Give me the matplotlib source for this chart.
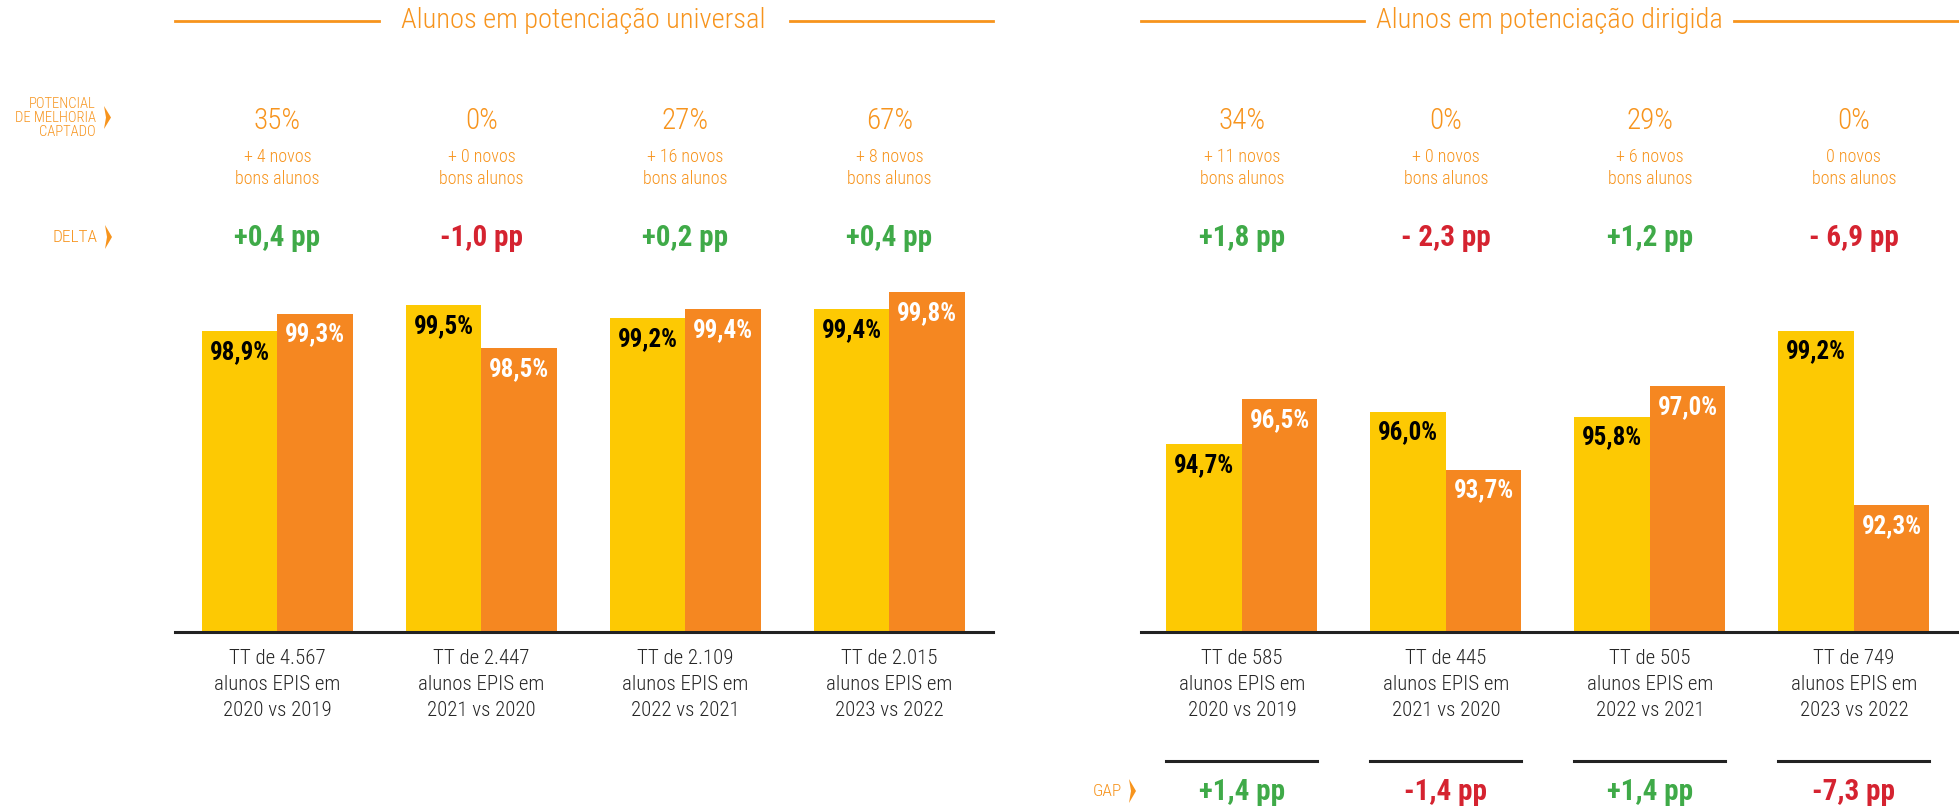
import matplotlib
matplotlib.use("Agg")
import matplotlib.pyplot as plt
import matplotlib.transforms as mtransforms
from matplotlib.lines import Line2D
from matplotlib.patches import Polygon
import numpy as np

# ---------------- data ----------------
univ_labels = ["TT de 4.567\nalunos EPIS em\n2020 vs 2019",
               "TT de 2.447\nalunos EPIS em\n2021 vs 2020",
               "TT de 2.109\nalunos EPIS em\n2022 vs 2021",
               "TT de 2.015\nalunos EPIS em\n2023 vs 2022"]
univ_prev = [98.9, 99.5, 99.2, 99.4]
univ_curr = [99.3, 98.5, 99.4, 99.8]
univ_pot = ["35%", "0%", "27%", "67%"]
univ_novos = ["+ 4 novos\nbons alunos", "+ 0 novos\nbons alunos",
              "+ 16 novos\nbons alunos", "+ 8 novos\nbons alunos"]
univ_delta = ["+0,4 pp", "-1,0 pp", "+0,2 pp", "+0,4 pp"]

dir_labels = ["TT de 585\nalunos EPIS em\n2020 vs 2019",
              "TT de 445\nalunos EPIS em\n2021 vs 2020",
              "TT de 505\nalunos EPIS em\n2022 vs 2021",
              "TT de 749\nalunos EPIS em\n2023 vs 2022"]
dir_prev = [94.7, 96.0, 95.8, 99.2]
dir_curr = [96.5, 93.7, 97.0, 92.3]
dir_pot = ["34%", "0%", "29%", "0%"]
dir_novos = ["+ 11 novos\nbons alunos", "+ 0 novos\nbons alunos",
             "+ 6 novos\nbons alunos", "0 novos\nbons alunos"]
dir_delta = ["+1,8 pp", "- 2,3 pp", "+1,2 pp", "- 6,9 pp"]
dir_gap = ["+1,4 pp", "-1,4 pp", "+1,4 pp", "-7,3 pp"]

titles = ["Alunos em potenciação universal", "Alunos em potenciação dirigida"]

# ---------------- style ----------------
YEL = "#FDC903"
ORA = "#F58721"
TORA = "#F7941D"
GREEN = "#3FAA48"
RED = "#D52330"
DARK = "#262626"
FONT = ["Roboto Condensed", "Roboto", "DejaVu Sans"]
plt.rcParams["font.family"] = FONT

W, H = 1959, 806
fig = plt.figure(figsize=(W / 100, H / 100), dpi=100)
px = mtransforms.Affine2D().scale(1 / W, -1 / H).translate(0, 1) + fig.transFigure

def fy(y):
    return 1 - y / H

BASE = 632.2
TOP = 283.6
BW = 0.37

def make_panel(x0, x1, xlim, ylim, prev, curr, labels, pot, novos, delta, gap=None):
    ax = fig.add_axes([x0 / W, fy(BASE), (x1 - x0) / W, (BASE - TOP) / H])
    x = np.arange(len(prev))
    ax.bar(x - BW / 2, prev, BW, color=YEL, zorder=2)
    ax.bar(x + BW / 2, curr, BW, color=ORA, zorder=2)
    ax.set_xlim(*xlim)
    ax.set_ylim(*ylim)
    for s in ["top", "left", "right"]:
        ax.spines[s].set_visible(False)
    ax.spines["bottom"].set_color("#222222")
    ax.spines["bottom"].set_linewidth(2.2)
    ax.spines["bottom"].set_zorder(3)
    ax.set_xticks([])
    ax.set_yticks([])
    for i in range(len(prev)):
        ax.annotate(f"{prev[i]:.1f}%".replace(".", ","), (x[i] - BW / 2, prev[i]),
                    xytext=(0, -15), textcoords="offset points", ha="center", va="center",
                    fontsize=18, fontweight="bold", color="black")
        ax.annotate(f"{curr[i]:.1f}%".replace(".", ","), (x[i] + BW / 2, curr[i]),
                    xytext=(0, -15), textcoords="offset points", ha="center", va="center",
                    fontsize=18, fontweight="bold", color="white")
    bt = mtransforms.blended_transform_factory(ax.transData, px)
    for i in range(len(prev)):
        fig.text(x[i], 121, pot[i], transform=bt, ha="center", va="center",
                 fontsize=21, fontweight="light", color=TORA)
        fig.text(x[i], 168, novos[i], transform=bt, ha="center", va="center",
                 fontsize=13, fontweight="light", color=TORA, linespacing=1.3)
        c = GREEN if delta[i].startswith("+") else RED
        fig.text(x[i], 238, delta[i], transform=bt, ha="center", va="center",
                 fontsize=21, fontweight="bold", color=c)
        fig.text(x[i], 649, labels[i], transform=bt, ha="center", va="top",
                 fontsize=15, fontweight="light", color=DARK, linespacing=1.45)
        if gap is not None:
            fig.add_artist(Line2D([x[i] - BW, x[i] + BW], [761, 761], transform=bt,
                                  color="#222222", lw=2.2))
            c = GREEN if gap[i].startswith("+") else RED
            fig.text(x[i], 792, gap[i], transform=bt, ha="center", va="center",
                     fontsize=21, fontweight="bold", color=c)
    return ax

axL = make_panel(175, 993, (-0.502, 3.508), (91.9, 100.0),
                 univ_prev, univ_curr, univ_labels, univ_pot, univ_novos, univ_delta)
axR = make_panel(1140.7, 1959, (-0.496, 3.515), (87.27, 101.06),
                 dir_prev, dir_curr, dir_labels, dir_pot, dir_novos, dir_delta, dir_gap)

# titles with side lines
for (l0, l1, cx, r0, r1), t in zip([(175, 378.6, 583.5, 789.6, 993.3),
                                      (1140.7, 1364.3, 1549, 1734, 1959)], titles):
    fig.add_artist(Line2D([l0, l1], [21, 21], transform=px, color=TORA, lw=2))
    fig.add_artist(Line2D([r0, r1], [21, 21], transform=px, color=TORA, lw=2))
    fig.text(cx, 21, t, transform=px, ha="center", va="center", fontsize=20.5,
             fontweight="light", color=TORA)

# row labels with arrows
def arrow(xl, y0, y1):
    xr = xl + 7
    ym = (y0 + y1) / 2
    fig.add_artist(Polygon([[xl, y0], [xr, ym], [xl, y1], [xl + 2, ym]], closed=True,
                           transform=px, color=TORA, lw=0))

fig.text(96, 118, "POTENCIAL\nDE MELHORIA\nCAPTADO", transform=px, ha="right", va="center",
         fontsize=10.5, color=TORA, linespacing=1.0, fontweight="light")
arrow(104, 106, 129)
fig.text(98, 237, "DELTA", transform=px, ha="right", va="center", fontsize=12.5,
         color=TORA, fontweight="light")
arrow(105, 225, 249)
fig.text(1122, 791, "GAP", transform=px, ha="right", va="center", fontsize=12.5,
         color=TORA, fontweight="light")
arrow(1129, 779, 803)

fig.savefig("out.png", dpi=100)
